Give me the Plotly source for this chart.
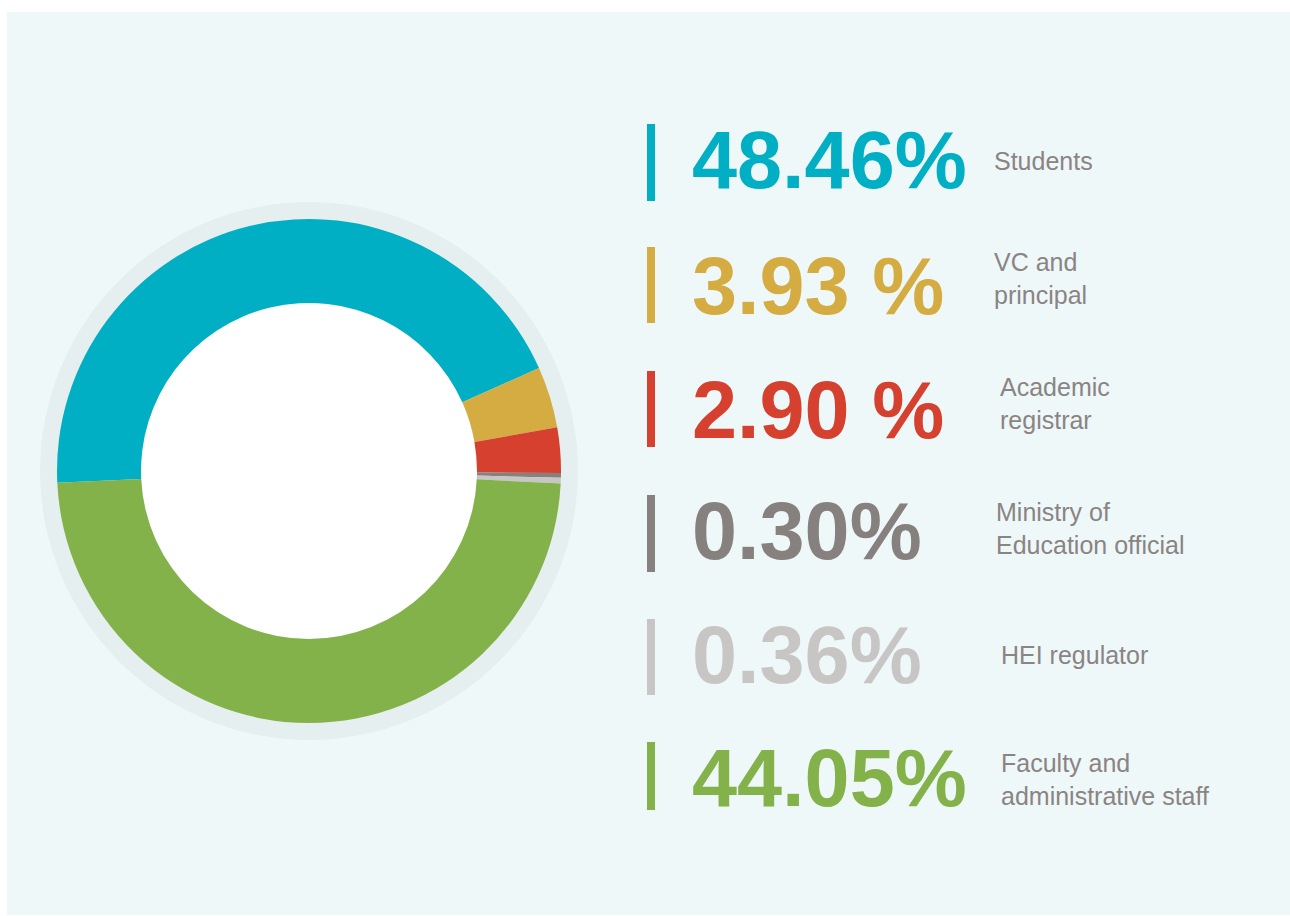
import plotly.graph_objects as go

# categories and printed figures
categories = ["Students", "VC and<br>principal", "Academic<br>registrar",
              "Ministry of<br>Education official", "HEI regulator",
              "Faculty and<br>administrative staff"]
pct_labels = ["48.46%", "3.93 %", "2.90 %", "0.30%", "0.36%", "44.05%"]
# slice sizes as drawn in the ring (teal and green arcs as they appear)
slice_values = [44.05, 3.93, 2.90, 0.30, 0.36, 48.46]
colors = ["#00AFC3", "#D4AC42", "#D5402F", "#86807F", "#C8C6C5", "#84B24A"]

W, H = 1290, 916


def px(x):
    return x / W


def py(y):
    return 1 - y / H


cx, cy, r_out, r_in, r_ring = 309, 471, 252, 168, 269

fig = go.Figure()

fig.add_trace(go.Pie(
    values=slice_values,
    labels=[c.replace("<br>", " ") for c in categories],
    marker=dict(colors=colors, line=dict(width=0)),
    hole=r_in / r_out,
    sort=False,
    direction="clockwise",
    rotation=267.3,
    textinfo="none",
    hoverinfo="label+value",
    showlegend=False,
    domain=dict(x=[px(cx - r_out), px(cx + r_out)], y=[py(cy + r_out), py(cy - r_out)]),
))

shapes = [
    # panel
    dict(type="rect", xref="paper", yref="paper", x0=px(7), x1=1, y0=py(915), y1=py(12),
         fillcolor="#EFF8F9", line_width=0, layer="below"),
    # grey ring behind the donut
    dict(type="circle", xref="paper", yref="paper",
         x0=px(cx - r_ring), x1=px(cx + r_ring), y0=py(cy + r_ring), y1=py(cy - r_ring),
         fillcolor="#E6EFEF", line_width=0, layer="below"),
    # white centre
    dict(type="circle", xref="paper", yref="paper",
         x0=px(cx - r_in), x1=px(cx + r_in), y0=py(cy + r_in), y1=py(cy - r_in),
         fillcolor="white", line_width=0, layer="below"),
]

bar_spans = [(124, 201), (247, 323), (371, 447), (495, 572), (619, 695), (742, 810)]
text_y = [160, 286, 410, 531, 655, 778]
label_x = [992, 992, 998, 994, 999, 999]
label_y = [161, 278, 403, 528, 655, 779]

annotations = []
for i, cat in enumerate(categories):
    top, bot = bar_spans[i]
    shapes.append(dict(type="rect", xref="paper", yref="paper",
                       x0=px(647), x1=px(655), y0=py(bot), y1=py(top),
                       fillcolor=colors[i], line_width=0))
    annotations.append(dict(
        x=px(690), y=py(text_y[i]), xref="paper", yref="paper",
        xanchor="left", yanchor="middle", showarrow=False,
        text=pct_labels[i],
        font=dict(family="Liberation Sans", size=81, color=colors[i], weight="bold"),
    ))
    annotations.append(dict(
        x=px(label_x[i]), y=py(label_y[i]), xref="paper", yref="paper",
        xanchor="left", yanchor="middle", align="left", showarrow=False,
        text=cat,
        font=dict(family="Liberation Sans", size=25, color="#8A8483"),
    ))

fig.update_layout(
    width=W, height=H,
    margin=dict(l=0, r=0, t=0, b=0),
    paper_bgcolor="white",
    shapes=shapes,
    annotations=annotations,
)

fig.write_html("out.html", config={"displayModeBar": False},
               post_script="document.body.style.margin='0';document.body.style.overflow='hidden';")
